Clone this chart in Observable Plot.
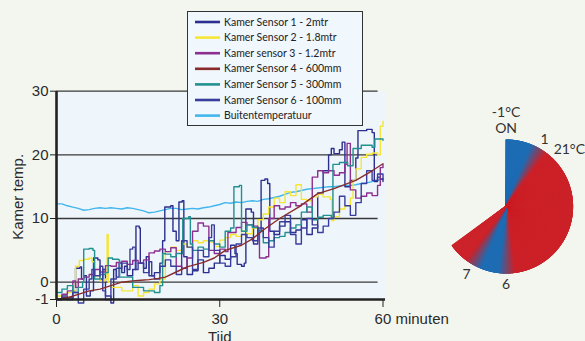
<!DOCTYPE html>
<html><head><meta charset="utf-8">
<script src="https://cdn.jsdelivr.net/npm/d3@7"></script>
<script src="https://cdn.jsdelivr.net/npm/@observablehq/plot@0.6"></script>
<style>
html,body{margin:0;padding:0;background:#f3f6ef;}
#wrap{position:relative;width:585px;height:341px;overflow:hidden;background:#f3f6ef;}
#wrap > *{position:absolute;}
#legend{left:187px;top:11px;width:176px;height:115px;box-sizing:border-box;border:1.5px solid #333;background:#f0f7fd;}
</style></head><body><div id="wrap"></div>
<script>
// ---- data ----
const seriesNames = ["Kamer Sensor 1 - 2mtr","Kamer Sensor 2 - 1.8mtr","Kamer sensor 3 - 1.2mtr","Kamer Sensor 4 - 600mm","Kamer Sensor 5 - 300mm","Kamer Sensor 6 - 100mm","Buitentemperatuur"];
const seriesColors = ["#2d2f8e","#f6e633","#8c2f90","#8a2b2b","#21908e","#3b3d9c","#42b6ec"];

const sensor1 = [[0,-1],[1,-0.9],[2,-1],[3,-0.5],[3.5,2.2],[4.3,2.4],[4.6,0.5],[5,1],[5.5,-0.8],[6.2,-0.5],[6.8,3.8],[7.6,3.5],[8,0.5],[8.5,2],[9,-0.8],[10,-1.2],[10.5,2],[11,0.8],[11.5,3],[12,1.5],[12.5,2.5],[13,1],[14,2],[14.6,8.8],[15.2,8.5],[15.4,3],[16,2.2],[16.5,4],[17,1],[18,1.5],[19,3],[19.5,6.5],[19.9,11.8],[21,12],[21.4,8],[22,6.5],[22.5,12.6],[23.1,12.8],[23.4,4],[24,1.2],[25,1.8],[26,3.5],[27,1.5],[28,2.2],[29,3],[30,4.2],[31,3.6],[32,5.8],[32.8,4.5],[33.2,2.8],[34,2.5],[34.5,3],[34.8,11.5],[35.8,11],[36.2,6],[37,8],[37.6,16],[38.3,16.2],[38.8,15.5],[39.2,8],[40,7.5],[41,8.8],[42,9.5],[43,7.8],[44,8.2],[45,9.8],[46,7.5],[47,8.5],[48,14],[49,17.5],[50,20],[50.5,21],[51,20.2],[52,20.8],[52.5,22],[53,15],[54,16],[55,19.5],[55.4,23.8],[57,24],[58,23.5],[58.4,15.8],[59,16.5],[59.5,16.2],[60,15.8]];
const sensor2 = [[0,-0.8],[2,-0.6],[3,-0.5],[3.5,2.5],[4.2,3.4],[5,3.6],[6,3.8],[6.5,3.2],[7,1],[8,0.2],[9,0.5],[9.3,7.5],[9.5,0],[10,-0.3],[12,-0.5],[14,-0.2],[15,-0.8],[16,-0.6],[17,-0.4],[18,-0.1],[19,0.5],[20,4.8],[21,5.5],[22,5],[23,6],[24,5.5],[25,6.5],[26,6.2],[27,6.5],[28,6.3],[29,5.6],[30,6.6],[31,7],[32,7.5],[33,7.2],[34,8],[35,7.6],[36,8.5],[37,9.8],[38,10.7],[39,11.8],[40,13.2],[41,12.5],[42,14.2],[43,13.6],[44,15.3],[45,13],[46,12.8],[47,13.4],[48,13.8],[49,13.4],[50.3,13],[50.6,9.7],[51,10.3],[52,11.5],[53,12],[54,13.2],[54.5,16],[55,17.8],[56,19.6],[57,20.1],[58,20.3],[59,20],[59.5,24.5],[60,25.3]];
const sensor3 = [[0,-1],[1,-0.7],[2,-0.5],[3,0.2],[3.5,-0.3],[4,0.5],[5,0.8],[6,1.2],[7,2],[8,1.6],[9,2.6],[10,2.5],[11,3.1],[12,3.3],[13,2.8],[14,3.4],[15,3],[16,3.5],[17,4.6],[18,4.9],[19,5.2],[20,4.8],[21,5.4],[22,2.5],[23,2.2],[24,3.8],[25,8],[26,9.3],[27,8.8],[28,5],[29,4.5],[30,5.2],[31,4.8],[31.5,7.8],[33,8.6],[34,9.4],[35,9],[36,8.8],[37,8.2],[37.3,3.8],[38.5,4],[39,10],[40,12],[41,11.5],[42,11.8],[43,12.5],[44,12],[45,12.3],[46,11],[47,16.5],[48,17.5],[49,17.2],[50,17.5],[51,16.8],[52,17.2],[53,18.5],[53.4,21.8],[54,14.5],[55,13.2],[56,13.5],[57,14],[58,13.6],[59,15.2],[59.5,18],[60,18.5]];
const sensor4 = [[0,-1],[2,-0.9],[4,-0.7],[6,-0.5],[8,-0.4],[10,-0.2],[12,0],[14,0.2],[15.5,0.3],[17,0.4],[18.7,0.6],[20,0.8],[22,1.6],[24,2.4],[27,3.1],[29,3.8],[31,5],[34,5.8],[36,6.8],[38,8.2],[41,10],[44.5,11.8],[48,13.9],[51,14.7],[55,16],[58,17.5],[60,18.6]];
const sensor5 = [[0,-0.6],[1,-0.4],[2,-0.2],[3,-0.6],[4,-0.3],[4.8,0],[5,5.2],[6,5.3],[6.7,5],[7,0.5],[8,1.2],[9,1.5],[9.5,3.8],[10.3,3.6],[11.4,3.5],[11.6,0.8],[12.3,0.8],[14,-0.3],[16,-0.5],[18,-0.6],[19,-0.2],[19.5,4.5],[20,4.4],[21,4],[22,4.5],[23.2,10],[24.3,10.3],[24.6,6],[25,5],[26,5.5],[27,5.2],[28,6.5],[29,6],[30,5.5],[31,8],[32,8.5],[32.6,15],[33.6,15.2],[34,8],[35,9],[36,8.6],[37,8],[38,6.2],[39,6.5],[40,7],[41,7.2],[42,7.8],[43,8.5],[44,9],[45,11],[46,11.8],[47,9.8],[48,10.2],[49,10.5],[50.5,10],[50.8,18.5],[52,18.8],[53.5,18.3],[54.5,21],[56,21.5],[58,21.2],[58.5,22.5],[60,22.3]];
const sensor6 = [[0,-1],[1,-0.8],[2,-0.9],[3,-0.6],[4,-1.2],[5,-0.4],[6,0.5],[6.5,2],[7,1],[8,2.5],[8.5,-0.5],[9,-1],[10,0.5],[11,2.2],[12,3],[13,2],[13.5,5.2],[14,5.5],[14.5,2],[15,3],[16,1.5],[17,3.2],[17.5,1],[18,0.5],[19,2.5],[20,3.5],[21,2.5],[22,1.2],[23,6.5],[24,5.5],[25,2],[26,5],[27,4],[28,7],[28.5,9],[29,5],[30,3],[31,2.5],[32,4],[33,6],[34,7.5],[35,7],[36,6.5],[37,8.5],[38,7],[39,5.5],[40,8],[41,9.5],[42,10.5],[43,7.5],[44,6],[45,8.5],[46,10],[47,9],[48,7.8],[49,8.8],[50,10],[51,11],[52,13.5],[53,12],[54,10.5],[55,12.5],[56,15.5],[57,17.5],[58,16],[59,17],[60,16.2]];
const buiten = [[0,12.3],[1,12.3],[2,12],[3,11.8],[4,11.6],[5,11.3],[6,11.4],[7,11.6],[8,11.7],[9,11.6],[10,11.7],[11,11.6],[12,11.5],[13,11.7],[14,11.6],[15,11.4],[16,11.2],[17,10.9],[18,11],[19,11.2],[20,11.4],[21,11.6],[22,11.6],[23,11.4],[24,11.5],[25,11.6],[26,11.5],[27,11.7],[28,11.8],[29,12],[30,12.2],[31,12.5],[32,12.4],[33,12.6],[34,12.5],[35,12.7],[36,12.8],[37,12.7],[38,13],[39,13.1],[40,13.3],[41,13.5],[42,13.8],[43,14.1],[44,14.2],[45,14.4],[46,14.6],[47,14.7],[48,14.8],[49,14.9],[50,15],[51,15],[52,15.1],[53,15.2],[54,15.2],[55,15.3],[56,15.5],[57,15.6],[58,15.8],[59,16],[60,16.2]];
const seriesData = [sensor1, sensor2, sensor3, sensor4, sensor5, sensor6, buiten];

const xTicks = [0, 30, 60];
const xTickLabels = ["0", "30", "60 minuten"];
const yTicks = [-1, 0, 10, 20, 30];
const yTickLabels = ["-1", "0", "10", "20", "30"];
const gridValues = [0, 10, 20, 30];

// pie: clock hours, state changes
const pieBounds = [0, 1, 6, 7, 7.8];
const pieStates = ["ON", "OFF", "ON", "OFF"];
const stateColors = {ON: "#1f6db4", OFF: "#cc2229"};
const pieLabelText = ["-1°C\nON", "1", "21°C", "6", "7"];
const pieLabelHour = [0, 1, 1.6, 6, 7];

// ---- build ----
const table = [];
seriesNames.forEach((name, i) => seriesData[i].forEach(([t, v]) => table.push({series: name, t, v})));
const smoothSeries = [seriesNames[6], seriesNames[3]];
const steppedOrder = [0, 1, 2, 4, 5];
const smoothData = smoothSeries.flatMap(n => table.filter(d => d.series === n));
const steppedData = steppedOrder.flatMap(i => table.filter(d => d.series === seriesNames[i]));

// the reference axis stretches the part below 0 (0 .. -1 takes ~2.7 units of space)
const belowZeroStretch = 2.72;
const yStretch = v => v < 0 ? v * belowZeroStretch : v;

const axisFont = "'Liberation Sans', Arial, Helvetica, sans-serif";
const main = Plot.plot({
  width: 585, height: 341,
  marginLeft: 56, marginRight: 200, marginTop: 91, marginBottom: 42,
  style: {background: "transparent", fontFamily: axisFont, fontSize: "15px", color: "#2a2a2a"},
  x: {domain: [0, 60], range: [56, 382.5]},
  y: {transform: yStretch, domain: [-belowZeroStretch, 30], range: [299, 90.7]},
  color: {domain: seriesNames, range: seriesColors},
  marks: [
    Plot.frame({fill: "#eef6fc", stroke: null}),
    Plot.ruleY(gridValues, {x1: 0, x2: 59.1, stroke: "#383838", strokeWidth: 1.3}),
    Plot.line(smoothData.filter(d => d.series === smoothSeries[0]), {x: "t", y: "v", z: "series", stroke: "series", strokeWidth: 1.4}),
    Plot.line(steppedData, {x: "t", y: "v", z: "series", stroke: "series", strokeWidth: 1.4, curve: "step-after"}),
    Plot.line(smoothData.filter(d => d.series === smoothSeries[1]), {x: "t", y: "v", z: "series", stroke: "series", strokeWidth: 1.4}),
    Plot.ruleX([0], {stroke: "#222", strokeWidth: 2.6}),
    Plot.ruleY([-1], {stroke: "#222", strokeWidth: 2.6}),
    Plot.axisY(yTicks, {tickFormat: d => yTickLabels[yTicks.indexOf(d)], tickSize: 6, tickPadding: 2, label: null, fontSize: 15, stroke: "#222"}),
    Plot.axisX(xTicks, {tickFormat: () => "", tickSize: 8, label: null, stroke: "#222"}),
    Plot.text(xTicks.slice(0, 2), {x: d => d, text: d => xTickLabels[xTicks.indexOf(d)], frameAnchor: "bottom", lineAnchor: "top", dy: 14, fontSize: 15, fill: "#2a2a2a"}),
    Plot.text(xTicks.slice(2), {x: d => d, text: d => xTickLabels[xTicks.indexOf(d)], frameAnchor: "bottom", lineAnchor: "top", textAnchor: "start", dx: -8.4, dy: 14, fontSize: 15, fill: "#2a2a2a"}),
    Plot.text(["Tijd"], {x: 30, text: d => d, frameAnchor: "bottom", lineAnchor: "bottom", dy: 42, fontSize: 15, fill: "#2a2a2a"}),
    Plot.text(["Kamer temp."], {x: 0, y: 13.4, text: d => d, rotate: -90, textAnchor: "middle", dx: -38, fontSize: 15, fill: "#2a2a2a"})
  ]
});
main.style.left = "0px"; main.style.top = "0px";
document.getElementById("wrap").appendChild(main);

// legend
const legend = document.createElement("div");
legend.id = "legend";
const lsvg = d3.select(legend).append("svg").attr("width", 173).attr("height", 112).style("position", "absolute").style("left", "0").style("top", "0");
seriesNames.forEach((name, i) => {
  const cy = 10 + i * 15.6;
  lsvg.append("line").attr("x1", 7).attr("x2", 32).attr("y1", cy).attr("y2", cy).attr("stroke", seriesColors[i]).attr("stroke-width", 2.6);
  lsvg.append("text").attr("x", 36).attr("y", cy + 3.6).attr("font-family", "Lato, 'Open Sans', sans-serif").attr("font-size", 10.5).attr("fill", "#222").text(name);
});
document.getElementById("wrap").appendChild(legend);

// pie
const toRad = h => h * Math.PI / 6;
const half = 0.25;
const colorDomain = [], colorRange = [];
pieStates.forEach((s, i) => {
  const a = i === 0 ? pieBounds[0] : pieBounds[i] + half;
  const b = i === pieStates.length - 1 ? pieBounds[i + 1] : pieBounds[i + 1] - half;
  colorDomain.push(a, b); colorRange.push(stateColors[s], stateColors[s]);
});
const samples = d3.range(pieBounds[0], pieBounds[pieBounds.length - 1] + 1e-9, 0.01);
const labelR = [1.1, 1.15, 1.27, 1.16, 1.18];
const cx = 70.6, cy = 111, R = 67;
const pie = Plot.plot({
  width: 150, height: 210, margin: 0,
  style: {background: "transparent", fontFamily: "Lato, 'Open Sans', sans-serif", overflow: "visible"},
  x: {domain: [-1, 1], range: [cx - R, cx + R], axis: null},
  y: {domain: [-1, 1], range: [cy + R, cy - R], axis: null},
  color: {type: "linear", domain: colorDomain, range: colorRange, interpolate: "rgb"},
  marks: [
    Plot.link(samples, {x1: 0, y1: 0, x2: h => Math.sin(toRad(h)), y2: h => Math.cos(toRad(h)), stroke: h => h, strokeWidth: 1.6}),
    Plot.text(pieLabelText.slice(0, 1), {x: (d, i) => Math.sin(toRad(pieLabelHour[i])) * labelR[i], y: (d, i) => Math.cos(toRad(pieLabelHour[i])) * labelR[i], text: d => d, lineAnchor: "bottom", lineHeight: 1.12, fontSize: 14, fill: "#333"}),
    Plot.text(pieLabelText.slice(1), {x: (d, i) => Math.sin(toRad(pieLabelHour[i + 1])) * labelR[i + 1], y: (d, i) => Math.cos(toRad(pieLabelHour[i + 1])) * labelR[i + 1], text: d => d, lineAnchor: "middle", fontSize: 14, fill: "#333"})
  ]
});
pie.style.left = "435px"; pie.style.top = "95px";
document.getElementById("wrap").appendChild(pie);
</script></body></html>
